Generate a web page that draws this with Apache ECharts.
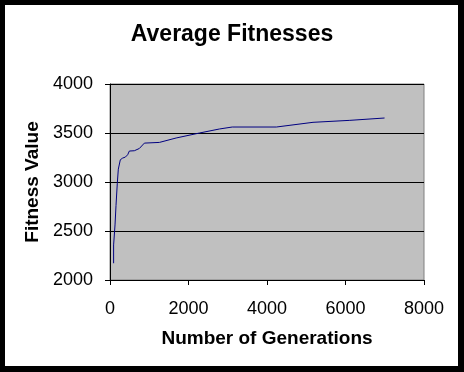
<!DOCTYPE html>
<html><head><meta charset="utf-8">
<script src="https://cdn.jsdelivr.net/npm/echarts@6/dist/echarts.min.js"></script>
<style>html,body{margin:0;padding:0;background:#fff}#c{width:464px;height:372px;position:absolute;left:0;top:0}
#f{position:absolute;left:0;top:0;width:464px;height:372px;box-sizing:border-box;border-style:solid;border-color:#000;border-width:5px 6px 6px 5px;pointer-events:none}</style>
</head><body><div id="c"></div><div id="f"></div>
<script>
const generations = [92, 92, 128, 153, 186, 212, 263, 322, 391, 450, 493, 620, 748, 876, 919, 1259, 1685, 2280, 2790, 3114, 4238, 5172, 6110, 6995];
const fitness = [2171, 2358, 2562, 2760, 2988, 3131, 3227, 3244, 3254, 3278, 3316, 3319, 3342, 3397, 3390, 3404, 3449, 3500, 3541, 3561, 3561, 3609, 3629, 3653];
const xTicks = [0, 2000, 4000, 6000, 8000];
const yTicks = [2000, 2500, 3000, 3500, 4000];

const chart = echarts.init(document.getElementById('c'), null, {renderer: 'canvas'});
const font = 'Liberation Sans, Arial, sans-serif';
chart.setOption({
  animation: false,
  backgroundColor: '#fff',
  title: {
    text: 'Average Fitnesses', left: 'center', top: 18,
    textStyle: {fontFamily: font, fontSize: 23, fontWeight: 'bold', color: '#000'}
  },
  grid: {
    left: 110, right: 40, top: 84, height: 196,
    show: true, backgroundColor: '#C0C0C0', borderColor: '#808080', borderWidth: 1
  },
  xAxis: {
    type: 'value', min: xTicks[0], max: xTicks[xTicks.length - 1], interval: 2000,
    name: 'Number of Generations', nameLocation: 'middle', nameGap: 49,
    nameTextStyle: {fontFamily: font, fontSize: 19, fontWeight: 'bold', color: '#000'},
    axisLine: {show: true, lineStyle: {color: '#000', width: 1}},
    axisTick: {show: true, length: 5, lineStyle: {color: '#000'}},
    axisLabel: {fontFamily: font, fontSize: 18, color: '#000', margin: 20, formatter: v => String(v)},
    splitLine: {show: false}
  },
  yAxis: {
    type: 'value', min: yTicks[0], max: yTicks[yTicks.length - 1], interval: 500,
    name: 'Fitness Value', nameLocation: 'middle', nameGap: 64,
    nameTextStyle: {fontFamily: font, fontSize: 19, fontWeight: 'bold', color: '#000'},
    axisLine: {show: true, lineStyle: {color: '#000', width: 1}},
    axisTick: {show: true, length: 5, lineStyle: {color: '#000'}},
    axisLabel: {fontFamily: font, fontSize: 18, color: '#000', margin: 17, formatter: v => String(v)},
    splitLine: {show: true, lineStyle: {color: '#000', width: 1}}
  },
  series: [{
    type: 'line', data: generations.map((g, i) => [g, fitness[i]]),
    showSymbol: false, symbol: 'none',
    lineStyle: {color: '#000080', width: 1}
  }]
});
</script></body></html>
